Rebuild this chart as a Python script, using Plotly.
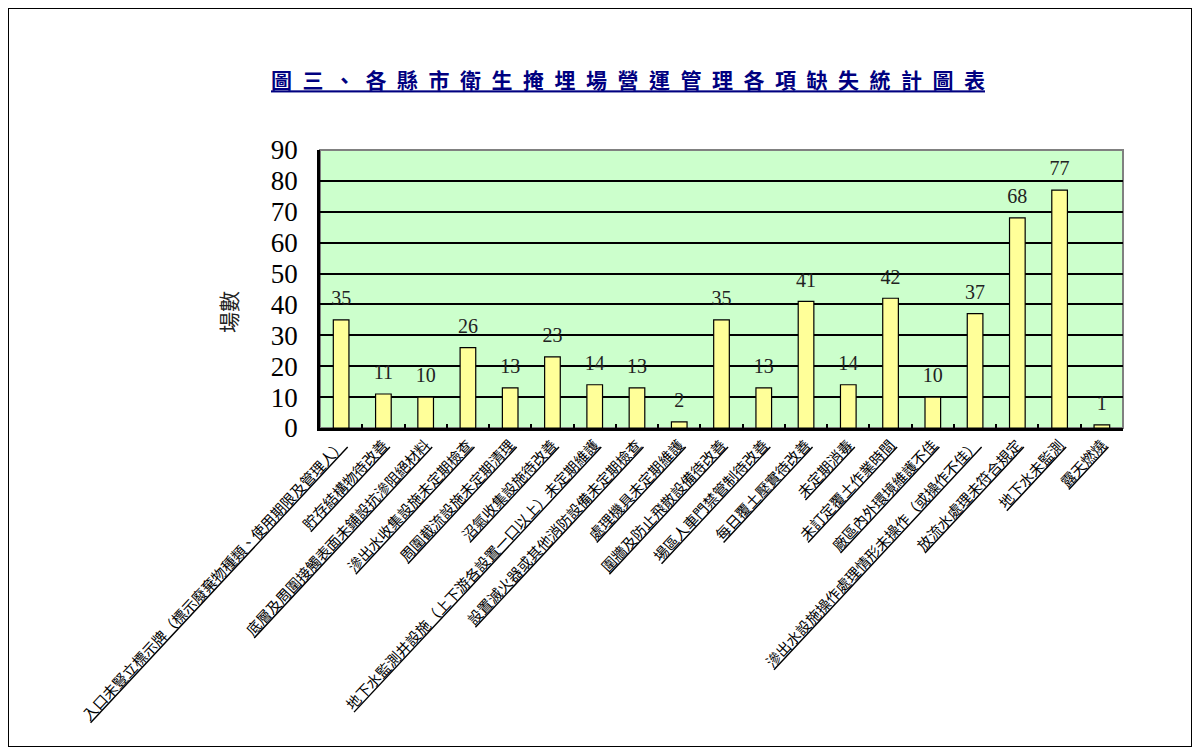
import plotly.graph_objects as go

categories = [
    "入口未豎立標示牌（標示廢棄物種類、使用期限及管理人）",
    "貯存結構物待改善",
    "底層及周圍接觸表面未鋪設抗滲阻絕材料",
    "滲出水收集設施未定期檢查",
    "周圍截流設施未定期清理",
    "沼氣收集設施待改善",
    "地下水監測井設施（上下游各設置一口以上）未定期維護",
    "設置滅火器或其他消防設備未定期檢查",
    "處理機具未定期維護",
    "圍牆及防止飛散設備待改善",
    "場區人車門禁管制待改善",
    "每日覆土壓實待改善",
    "未定期消毒",
    "未訂定覆土作業時間",
    "廠區內外環境維護不佳",
    "滲出水設施操作處理情形未操作（或操作不佳）",
    "放流水處理未符合規定",
    "地下水未監測",
    "露天燃燒",
]
values = [35, 11, 10, 26, 13, 23, 14, 13, 2, 35, 13, 41, 14, 42, 10, 37, 68, 77, 1]
y_ticks = [0, 10, 20, 30, 40, 50, 60, 70, 80, 90]
title_text = "圖三、各縣市衛生掩埋場營運管理各項缺失統計圖表"
y_title = "場數"

CJK = "Noto Sans CJK TC"
SERIF = "Liberation Serif"

fig = go.Figure()
fig.add_trace(go.Bar(
    x=categories,
    y=values,
    width=0.37,
    marker=dict(color="#FFFF99", line=dict(color="black", width=1.2)),
    hoverinfo="x+y",
))
# value labels, lifted above the bar tops by an invisible marker
fig.add_trace(go.Scatter(
    x=categories,
    y=values,
    mode="markers+text",
    marker=dict(size=14, opacity=0),
    text=[str(v) for v in values],
    textposition="top center",
    textfont=dict(family=SERIF, size=20, color="#222222"),
    cliponaxis=False,
    hoverinfo="skip",
))

# page body has an 8px margin; figure is placed at (8, 8) in the window
OFF = 8
W, H = 1184, 739
L = 320 - OFF
T = 150 - OFF
R = W - (1123 - OFF)
B = H - (428 - OFF)
PW, PH = W - L - R, H - T - B

spaced_title = "\u2002".join(title_text)

fig.update_layout(
    width=W, height=H,
    margin=dict(l=L, r=R, t=T, b=B, autoexpand=False),
    paper_bgcolor="white",
    plot_bgcolor="#CCFFCC",
    showlegend=False,
    title=dict(
        text="<u>" + spaced_title + "</u>",
        xref="container", x=(628 - OFF) / W, xanchor="center",
        yref="container", y=1 - (81 - OFF) / H, yanchor="middle",
        font=dict(family=CJK, size=21, color="#000080", weight="bold"),
    ),
    xaxis=dict(
        type="category",
        range=[-0.5, len(categories) - 0.5],
        tickangle=-47,
        tickfont=dict(family=CJK, size=14.5, color="black"),
        tickmode="array",
        tickvals=categories,
        ticktext=["<u>" + c + "</u>" for c in categories],
        showline=True, linecolor="black", linewidth=2.5,
        ticks="inside", tickson="boundaries", ticklen=4, tickcolor="black", tickwidth=2,
        showgrid=False,
        automargin=False,
    ),
    yaxis=dict(
        range=[0, 90],
        tickmode="array",
        tickvals=y_ticks,
        tickfont=dict(family=SERIF, size=27, color="black"),
        ticklabelstandoff=14,
        showgrid=True, gridcolor="black", gridwidth=1.8,
        showline=True, linecolor="black", linewidth=2.5,
        ticks="inside", ticklen=4, tickcolor="black", tickwidth=2,
        zeroline=False,
        automargin=False,
    ),
    annotations=[
        dict(text=y_title, textangle=-90, xref="paper", yref="paper",
             x=(228 - 320) / PW, y=(428 - 312) / PH,
             xanchor="center", yanchor="middle", showarrow=False,
             font=dict(family=CJK, size=21, color="#222222")),
    ],
    shapes=[
        dict(type="rect", xref="paper", yref="paper",
             x0=0, x1=1, y0=0, y1=1,
             line=dict(color="#808080", width=2), layer="below"),
        dict(type="rect", xref="paper", yref="paper",
             x0=-L / PW, x1=1 + R / PW,
             y0=-B / PH, y1=1 + T / PH,
             line=dict(color="black", width=2), fillcolor="rgba(0,0,0,0)"),
    ],
)

fig.write_html("out.html")
